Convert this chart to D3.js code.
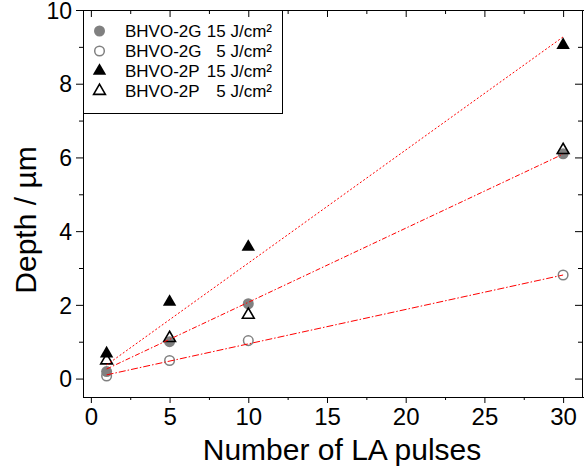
<!DOCTYPE html>
<html>
  <meta charset="utf-8">
  <head>
    <script src="https://d3js.org/d3.v7.min.js"></script>
    <style>
      body { margin: 0; background: #fff; }
      svg text { font-family: "Liberation Sans", Arial, sans-serif; }
    </style>
  </head>
  <body>
    <div id="viz"></div>

    <script type="text/javascript">
      // data
      var pulses = [1, 5, 10, 30];
      var g15 = [0.19, 1.0, 2.03, 6.1];
      var g5 = [0.07, 0.49, 1.03, 2.81];
      var p15 = [0.68, 2.08, 3.57, 9.05];
      var p5 = [0.49, 1.1, 1.73, 6.2];

      // fitted lines (end points)
      var fitX = [1, 30];
      var fitP15 = [0.37, 9.27];
      var fitG15 = [0.26, 6.09];
      var fitG5 = [0.10, 2.81];

      var xTicks = [0, 5, 10, 15, 20, 25, 30];
      var xMinor = [2.5, 7.5, 12.5, 17.5, 22.5, 27.5];
      var yTicks = [0, 2, 4, 6, 8, 10];
      var yMinor = [1, 3, 5, 7, 9];

      var legendNames = ["BHVO-2G", "BHVO-2G", "BHVO-2P", "BHVO-2P"];
      var legendFluence = ["15 J/cm\u00B2", "5 J/cm\u00B2", "15 J/cm\u00B2", "5 J/cm\u00B2"];

      var W = 584, H = 472;
      var box = {left: 83, right: 582, top: 10, bottom: 397};

      var svg = d3.select("#viz").append("svg")
        .attr("width", W)
        .attr("height", H);

      var x = d3.scaleLinear().domain([-0.5, 31.2]).range([box.left, box.right]);
      var y = d3.scaleLinear().domain([-0.5, 10]).range([box.bottom, box.top]);

      // legend box (drawn first, ticks go over it)
      var leg = svg.append("g");
      leg.append("rect")
        .attr("x", box.left + 0.5).attr("y", box.top + 0.5)
        .attr("width", 199).attr("height", 103)
        .attr("fill", "#fff").attr("stroke", "#000").attr("stroke-width", 1);

      var grey = "#808080";

      function drawMarker(g, kind, cx, cy) {
        if (kind == 0) {
          g.append("circle").attr("cx", cx).attr("cy", cy).attr("r", 5.5).attr("fill", grey);
        } else if (kind == 1) {
          g.append("circle").attr("cx", cx).attr("cy", cy).attr("r", 4.8)
            .attr("fill", "none").attr("stroke", grey).attr("stroke-width", 1.5);
        } else if (kind == 2) {
          g.append("path").attr("d", d3.symbol().type(d3.symbolTriangle).size(78))
            .attr("transform", "translate(" + cx + "," + cy + ")")
            .attr("fill", "#000");
        } else {
          g.append("path").attr("d", d3.symbol().type(d3.symbolTriangle).size(60))
            .attr("transform", "translate(" + cx + "," + cy + ")")
            .attr("fill", "none").attr("stroke", "#000").attr("stroke-width", 1.6);
        }
      }

      legendNames.forEach(function(name, i) {
        var cy = 31 + i * 20;
        drawMarker(leg, i, 99.5, cy);
        leg.append("text").attr("x", 125).attr("y", cy + 6)
          .style("font-size", "17px").text(name);
        leg.append("text").attr("x", 272).attr("y", cy + 6)
          .attr("text-anchor", "end")
          .style("font-size", "17px").text(legendFluence[i]);
      });

      // axes
      function minorAxis(axis, sel) {
        sel.call(axis);
        sel.select(".domain").remove();
      }

      // bottom
      svg.append("g")
        .attr("transform", "translate(0," + box.bottom + ")")
        .call(d3.axisBottom(x).tickValues(xTicks).tickSizeInner(6).tickSizeOuter(0).tickPadding(5))
        .call(g => g.select(".domain").attr("d", "M" + box.left + ",0.5H" + (box.right + 2)))
        .selectAll("text").style("font-size", "24px");
      svg.append("g")
        .attr("transform", "translate(0," + box.bottom + ")")
        .call(g => minorAxis(d3.axisBottom(x).tickValues(xMinor).tickSize(3).tickFormat(""), g));

      // top (ticks inward)
      svg.append("g")
        .attr("transform", "translate(0," + box.top + ")")
        .call(d3.axisBottom(x).tickValues(xTicks).tickSizeInner(7).tickSizeOuter(0).tickFormat(""))
        .call(g => g.select(".domain").attr("d", "M" + box.left + ",0.5H" + (box.right + 2)));
      svg.append("g")
        .attr("transform", "translate(0," + box.top + ")")
        .call(g => minorAxis(d3.axisBottom(x).tickValues(xMinor).tickSize(4).tickFormat(""), g));

      // left
      svg.append("g")
        .attr("transform", "translate(" + box.left + ",0)")
        .call(d3.axisLeft(y).tickValues(yTicks).tickSizeInner(7).tickSizeOuter(0).tickPadding(4))
        .selectAll("text").style("font-size", "23px").attr("dy", "0.36em");
      svg.append("g")
        .attr("transform", "translate(" + box.left + ",0)")
        .call(g => minorAxis(d3.axisLeft(y).tickValues(yMinor).tickSize(4).tickFormat(""), g));

      // right (ticks inward)
      svg.append("g")
        .attr("transform", "translate(" + box.right + ",0)")
        .call(d3.axisLeft(y).tickValues(yTicks).tickSizeInner(7).tickSizeOuter(0).tickFormat(""));
      svg.append("g")
        .attr("transform", "translate(" + box.right + ",0)")
        .call(g => minorAxis(d3.axisLeft(y).tickValues(yMinor).tickSize(4).tickFormat(""), g));

      svg.selectAll(".tick text").attr("fill", "#000");

      // axis titles
      svg.append("text")
        .attr("x", 342).attr("y", 460)
        .attr("text-anchor", "middle")
        .style("font-size", "30px")
        .text("Number of LA pulses");
      svg.append("text")
        .attr("transform", "translate(36,220) rotate(-90)")
        .attr("text-anchor", "middle")
        .style("font-size", "30px")
        .text("Depth / \u00B5m");

      // markers
      var plot = svg.append("g");
      [g15, g5, p15, p5].forEach(function(series, k) {
        series.forEach(function(v, i) {
          drawMarker(plot, k, x(pulses[i]), y(v));
        });
      });

      // fit lines
      var line = d3.line().x((d) => x(d[0])).y((d) => y(d[1]));
      var fits = [
        {vals: fitP15, dash: "2,2"},
        {vals: fitG15, dash: "5,2,1.5,2"},
        {vals: fitG5, dash: "7,2,1.5,2"}
      ];
      fits.forEach(function(f) {
        plot.append("path")
          .datum(fitX.map((v, i) => [v, f.vals[i]]))
          .attr("d", line)
          .attr("fill", "none")
          .attr("stroke", "#ff0000")
          .attr("stroke-width", 1)
          .attr("stroke-dasharray", f.dash);
      });
    </script>
  </body>
</html>
